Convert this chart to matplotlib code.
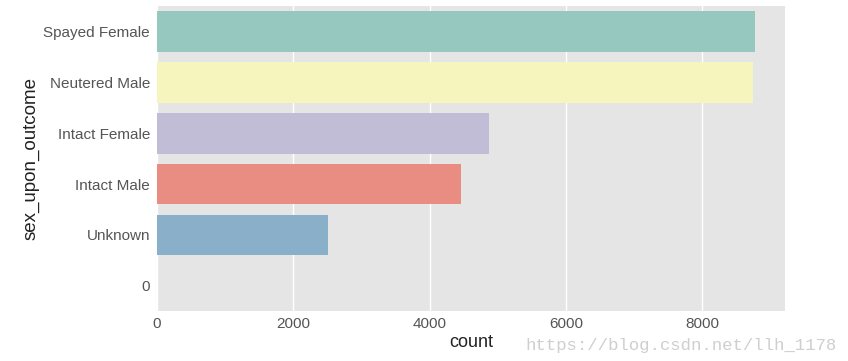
import matplotlib
matplotlib.use("Agg")
import matplotlib.pyplot as plt

categories = ["Spayed Female", "Neutered Male", "Intact Female", "Intact Male", "Unknown", "0"]
counts = [8779, 8750, 4878, 4465, 2515, 0]
colors = ["#97c8c0", "#f5f5bd", "#c1bdd6", "#e98c82", "#8aafc8", "#d9b484"]

plt.rcParams['font.family'] = ['Liberation Sans', 'DejaVu Sans']

fig = plt.figure(figsize=(8.48, 3.61), dpi=100)
ax = fig.add_axes([0.185, 0.138, 0.741, 0.845])
ax.set_facecolor("#e5e5e5")

ypos = list(range(len(categories)))
ax.barh(ypos, counts, height=0.8, color=colors, zorder=2)
ax.set_yticks(ypos)
ax.set_yticklabels(categories)
ax.set_ylim(len(categories) - 0.5, -0.5)
ax.set_xlim(0, max(counts) * 1.05)
ax.set_xticks([0, 2000, 4000, 6000, 8000])

ax.grid(axis="x", color="white", linewidth=1.0, zorder=1)
ax.grid(axis="y", visible=False)
for s in ax.spines.values():
    s.set_visible(False)
ax.tick_params(axis="both", length=0, labelsize=11, labelcolor="#555555")
ax.tick_params(axis="y", pad=5)
ax.tick_params(axis="x", pad=4)

ax.set_xlabel("count", fontsize=13, color="#222222", labelpad=2)
ax.set_ylabel("sex_upon_outcome", fontsize=13.5, color="#222222", labelpad=3)

fig.text(0.986, 0.022, "https://blog.csdn.net/llh_1178", ha="right", va="bottom",
         fontsize=12.5, color="#cfcfcf", family=["Liberation Mono", "DejaVu Sans Mono"])

fig.savefig("out.png", dpi=100)
